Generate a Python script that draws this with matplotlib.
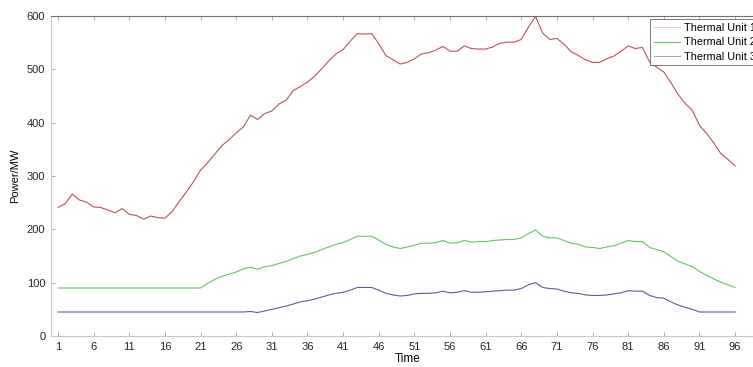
import matplotlib
matplotlib.use("Agg")
import matplotlib.pyplot as plt
import numpy as np

plt.rcParams["font.family"] = ["Liberation Sans", "DejaVu Sans"]

# ── Data ───────────────────────────────────────────────────────────
time = np.arange(1, 97)

unit1 = [241, 248, 266, 255, 251, 242, 241, 236, 231, 239,
         228, 226, 219, 225, 222, 221, 233, 252, 270, 289,
         311, 325, 341, 357, 368, 381, 392, 414, 406, 417,
         422, 435, 442, 460, 468, 476, 487, 501, 516, 529,
         537, 553, 567, 566, 567, 548, 526, 518, 510, 513,
         520, 529, 531, 536, 543, 534, 534, 544, 539, 538,
         538, 542, 549, 551, 551, 556, 579, 599, 568, 556,
         558, 547, 533, 526, 518, 513, 513, 520, 525, 534,
         544, 539, 541, 514, 504, 495, 475, 453, 436, 423,
         395, 380, 362, 342, 331, 319]

unit2 = [90] * 20 + [
         90, 99, 106, 112, 116, 120, 126, 129, 125, 130,
         132, 136, 140, 145, 150, 153, 157, 162, 167, 172,
         175, 181, 187, 187, 187, 180, 172, 167, 164, 167,
         170, 174, 174, 175, 179, 174, 175, 179, 176, 177,
         177, 179, 180, 181, 181, 184, 192, 199, 187, 184,
         184, 179, 174, 172, 167, 166, 164, 167, 169, 174,
         179, 177, 177, 166, 162, 158, 149, 140, 135, 130,
         121, 114, 107, 101, 96, 91]

unit3 = [45] * 27 + [
         46, 44, 47, 50, 53, 56, 60, 64, 66, 69,
         73, 77, 80, 82, 86, 91, 91, 91, 86, 80,
         77, 75, 76, 79, 80, 80, 81, 84, 81, 82,
         85, 82, 82, 83, 84, 85, 86, 86, 89, 96,
         100, 91, 89, 88, 84, 81, 80, 77, 76, 76,
         77, 79, 81, 85, 84, 84, 76, 72, 71, 64,
         58, 54, 50, 45, 45, 45, 45, 45, 45]

labels = ["Thermal Unit 1", "Thermal Unit 2", "Thermal Unit 3"]
colors = ["#b85454", "#5ec85e", "#5c5ca0"]
legend_colors = ["#ecc8c8", "#5ec85e", "#a8a8b8"]
xticks = list(range(1, 97, 5))
yticks = list(range(0, 601, 100))

# ── Plot ───────────────────────────────────────────────────────────
fig = plt.figure(figsize=(7.53, 3.67), dpi=100)
ax = fig.add_axes([50.9 / 753, 31 / 367, 712.7 / 753, 320 / 367])

for series, label, color in zip([unit1, unit2, unit3], labels, colors):
    ax.plot(time, series, color=color, linewidth=0.8, label=label)

ax.set_xlim(0, 100)
ax.set_ylim(0, 600)
ax.set_xticks(xticks)
ax.set_yticks(yticks)
ax.tick_params(direction="in", length=3, width=0.6, labelsize=8,
               color="#a0a0a0", labelcolor="#262626", top=True, right=True, pad=4)
for name, sp in ax.spines.items():
    sp.set_color("#707070" if name == "top" else "#c8c8c8")
    sp.set_linewidth(0.8)

ax.set_xlabel("Time", fontsize=8.5, labelpad=1)
ax.set_ylabel("Power/MW", fontsize=8, labelpad=5)

# legend runs off the right edge, as in the reference
leg = ax.legend(loc="upper left", bbox_to_anchor=(0.8406, 0.99), borderaxespad=0,
                fontsize=7.8, frameon=True, fancybox=False, handlelength=2.4,
                handletextpad=0.4, labelspacing=0.4, borderpad=0.35)
leg.get_frame().set_edgecolor("#404040")
leg.get_frame().set_linewidth(0.6)
for line, c in zip(leg.get_lines(), legend_colors):
    line.set_color(c)

plt.savefig("out.png", dpi=100)
plt.close()
